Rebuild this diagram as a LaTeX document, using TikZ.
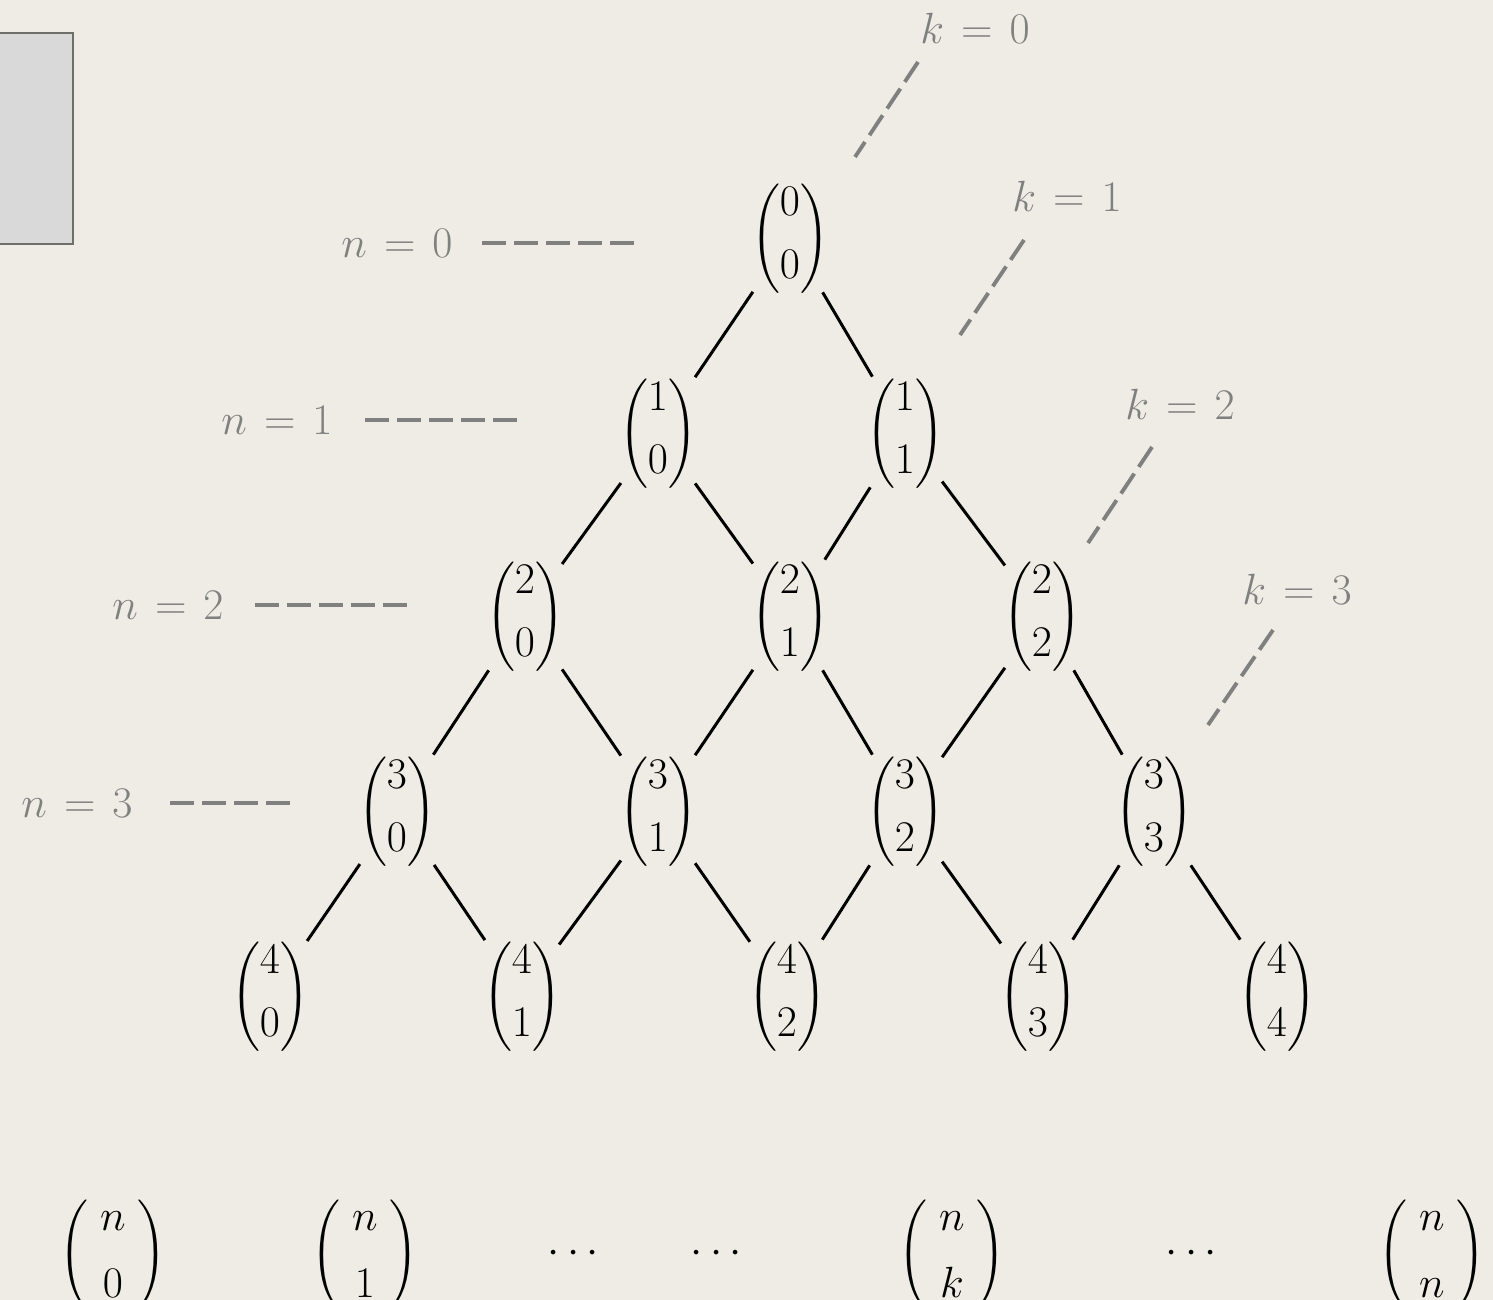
\documentclass[tikz,border=0pt]{standalone}
\usepackage{amsmath}
\definecolor{bgc}{HTML}{EEECE4}
\definecolor{boxfill}{HTML}{D9D9D9}
\definecolor{boxline}{HTML}{6E6E6A}
\definecolor{lblgray}{HTML}{808080}
\newcommand{\parL}[1]{\mbox{\fontsize{#1}{#1}\selectfont$\Biggl($}}
\newcommand{\parR}[1]{\mbox{\fontsize{#1}{#1}\selectfont$\Biggr)$}}
\newcommand{\mybin}[2]{\parL{22.7}\begin{matrix}#1\\[7pt]#2\end{matrix}\parR{22.7}}
\newcommand{\mybinb}[2]{\parL{19.5}\;\begin{matrix}#1\\[6pt]#2\end{matrix}\;\parR{19.5}}
\newcommand{\lbleq}[2]{#1\mskip2mu=\mskip2mu#2}
\tikzset{
  bn/.style={inner sep=0pt, outer sep=-1pt, font=\fontsize{25}{29}\selectfont},
  bnb/.style={inner sep=0pt, outer sep=0pt, font=\fontsize{28}{32}\selectfont},
  lbl/.style={inner sep=0pt, text=lblgray, font=\fontsize{31}{36}\selectfont},
  edge/.style={line width=1.7pt, black},
  guide/.style={line width=2.2pt, lblgray, dash pattern=on 13.6pt off 4.6pt}
}
\begin{document}
\begin{tikzpicture}[x=0.02cm, y=-0.02cm]
\begin{scope}
\clip (0,0) rectangle (1493,1300);
\fill[bgc] (0,0) rectangle (1493,1300);
\draw[fill=boxfill, draw=boxline, line width=1.4pt] (-10,33) rectangle (73,244);

% binomial nodes
\node[bn] (b00) at (790,237) {$\mybin{0}{0}$};
\node[bn] (b10) at (658,432) {$\mybin{1}{0}$};
\node[bn] (b11) at (905,432) {$\mybin{1}{1}$};
\node[bn] (b20) at (525,615) {$\mybin{2}{0}$};
\node[bn] (b21) at (790,615) {$\mybin{2}{1}$};
\node[bn] (b22) at (1042,615) {$\mybin{2}{2}$};
\node[bn] (b30) at (397,810) {$\mybin{3}{0}$};
\node[bn] (b31) at (658,810) {$\mybin{3}{1}$};
\node[bn] (b32) at (905,810) {$\mybin{3}{2}$};
\node[bn] (b33) at (1154,810) {$\mybin{3}{3}$};
\node[bn] (b40) at (270,995) {$\mybin{4}{0}$};
\node[bn] (b41) at (522,995) {$\mybin{4}{1}$};
\node[bn] (b42) at (787,995) {$\mybin{4}{2}$};
\node[bn] (b43) at (1038,995) {$\mybin{4}{3}$};
\node[bn] (b44) at (1277,995) {$\mybin{4}{4}$};

% edges
\draw[edge] (b00) -- (b10);  \draw[edge] (b00) -- (b11);
\draw[edge] (b10) -- (b20);  \draw[edge] (b10) -- (b21);
\draw[edge] (b11) -- (b21);  \draw[edge] (b11) -- (b22);
\draw[edge] (b20) -- (b30);  \draw[edge] (b20) -- (b31);
\draw[edge] (b21) -- (b31);  \draw[edge] (b21) -- (b32);
\draw[edge] (b22) -- (b32);  \draw[edge] (b22) -- (b33);
\draw[edge] (b30) -- (b40);  \draw[edge] (b30) -- (b41);
\draw[edge] (b31) -- (b41);  \draw[edge] (b31) -- (b42);
\draw[edge] (b32) -- (b42);  \draw[edge] (b32) -- (b43);
\draw[edge] (b33) -- (b43);  \draw[edge] (b33) -- (b44);

% n labels
\node[lbl] (n0) at (397,243) {$\lbleq{n}{0}$};
\node[lbl] (n1) at (277,420) {$\lbleq{n}{1}$};
\node[lbl] (n2) at (168,605) {$\lbleq{n}{2}$};
\node[lbl] (n3) at (77,803) {$\lbleq{n}{3}$};
\coordinate (n0a) at (482,243); \coordinate (n0b) at (640,243);
\coordinate (n1a) at (365,420); \coordinate (n1b) at (522,420);
\coordinate (n2a) at (255,605); \coordinate (n2b) at (412,605);
\coordinate (n3a) at (170,803); \coordinate (n3b) at (290,803);
\draw[guide] (n0a) -- (n0b);
\draw[guide] (n1a) -- (n1b);
\draw[guide] (n2a) -- (n2b);
\draw[guide] (n3a) -- (n3b);

% k labels
\node[lbl] (k0) at (975,28) {$\lbleq{k}{0}$};
\node[lbl] (k1) at (1067,196) {$\lbleq{k}{1}$};
\node[lbl] (k2) at (1180,404) {$\lbleq{k}{2}$};
\node[lbl] (k3) at (1297,589) {$\lbleq{k}{3}$};
\coordinate (k0a) at (918,62);   \coordinate (k0b) at (855,157);
\coordinate (k1a) at (1024,240); \coordinate (k1b) at (960,335);
\coordinate (k2a) at (1152,447); \coordinate (k2b) at (1088,543);
\coordinate (k3a) at (1273,630); \coordinate (k3b) at (1208,725);
\draw[guide] (k0a) -- (k0b);
\draw[guide] (k1a) -- (k1b);
\draw[guide] (k2a) -- (k2b);
\draw[guide] (k3a) -- (k3b);

% bottom row
\node[bnb] (bn0) at (113,1253) {$\mybinb{n}{0}$};
\node[bnb] (bn1) at (365,1253) {$\mybinb{n}{1}$};
\node[bnb] (d1) at (577,1254) {$\cdots$};
\node[bnb] (d2) at (720,1254) {$\cdots$};
\node[bnb] (bnk) at (952,1253) {$\mybinb{n}{k}$};
\node[bnb] (d3) at (1195,1254) {$\cdots$};
\node[bnb] (bnn) at (1432,1253) {$\mybinb{n}{n}$};
\end{scope}
\pgfresetboundingbox
\useasboundingbox (0,0) rectangle (1493,1300);
\end{tikzpicture}
\end{document}
